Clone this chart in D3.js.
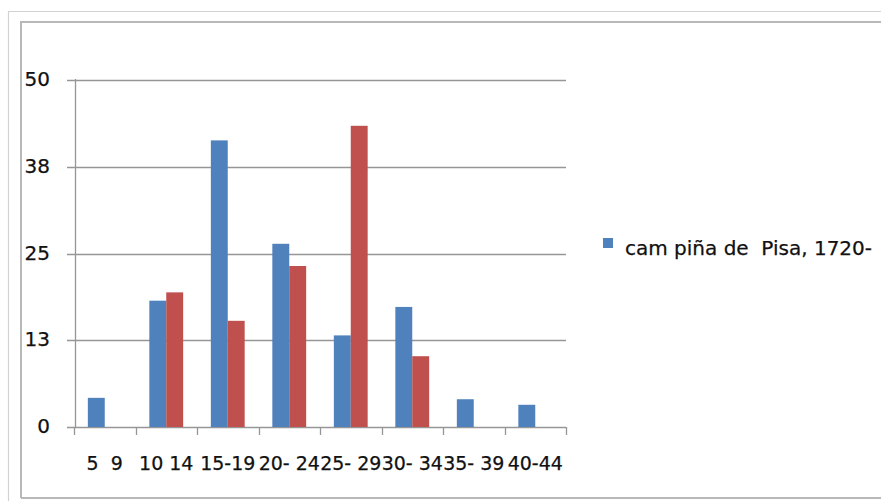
<!DOCTYPE html>
<html>
<head>
<meta charset="utf-8">
<script src="https://cdn.jsdelivr.net/npm/d3@7"></script>
<style>
  html, body { margin: 0; padding: 0; background: #fff; }
  svg { display: block; }
  text { font-family: "DejaVu Sans", Verdana, sans-serif; fill: #111; stroke: #111; stroke-width: 0.25; }
</style>
</head>
<body>
<svg id="chart" width="881" height="501"></svg>
<script>
// ---- data ----
const categories = ["5  9", "10 14", "15-19", "20- 24", "25- 29", "30- 34", "35- 39", "40-44"];
const seriesNames = ["cam piña de  Pisa, 1720-", "serie 2"];
const seriesBlue = [4.2, 18.2, 41.3, 26.4, 13.2, 17.3, 4.0, 3.2];
const seriesRed  = [null, 19.4, 15.3, 23.2, 43.4, 10.2, null, null];
const yTicks = [0, 12.5, 25, 37.5, 50];
const seriesColors = ["#4F81BD", "#C0504D"];

const svg = d3.select("#chart");

// frames
svg.append("path").attr("d", "M8.5,501 V11.5 H881")
  .attr("fill", "none").attr("stroke", "#d2d2d2").attr("stroke-width", 1.2);
svg.append("path").attr("d", "M21,498 V22 H881")
  .attr("fill", "none").attr("stroke", "#b8b8b8").attr("stroke-width", 2);
svg.append("line").attr("x1", 21).attr("x2", 881).attr("y1", 498).attr("y2", 498)
  .attr("stroke", "#b8b8b8").attr("stroke-width", 2);

const x = d3.scaleBand().domain(categories).range([74, 566]).padding(0);
const xSub = d3.scaleBand().domain([0, 1])
  .range([x.bandwidth() * 0.225, x.bandwidth() * 0.775]).padding(0);
const y = d3.scaleLinear().domain([0, 50]).range([427, 80]);

// gridlines
const grid = svg.append("g");
grid.selectAll("line").data(yTicks).join("line")
  .attr("x1", 67).attr("x2", 566)
  .attr("y1", d => Math.round(y(d)) + 0.5).attr("y2", d => Math.round(y(d)) + 0.5)
  .attr("stroke", "#969696").attr("stroke-width", 1.3);

// y axis line
svg.append("line").attr("x1", 75.5).attr("x2", 75.5).attr("y1", 79).attr("y2", 428)
  .attr("stroke", "#969696").attr("stroke-width", 1.3);

// y tick labels
svg.append("g").selectAll("text").data(yTicks).join("text")
  .attr("x", 50).attr("y", d => y(d) + 6)
  .attr("text-anchor", "end").attr("font-size", 20)
  .text(d => d3.format(".0f")(Math.round(d)));

// x axis ticks
const bounds = categories.map(c => x(c)).concat([x.range()[1]]);
svg.append("g").selectAll("line").data(bounds).join("line")
  .attr("x1", d => Math.round(d) + 0.5).attr("x2", d => Math.round(d) + 0.5)
  .attr("y1", 427).attr("y2", 435)
  .attr("stroke", "#969696").attr("stroke-width", 1.3);

// x labels
svg.append("g").selectAll("text").data(categories).join("text")
  .attr("x", d => x(d) + x.bandwidth() / 2).attr("y", 470)
  .attr("text-anchor", "middle").attr("font-size", 19)
  .style("white-space", "pre").attr("xml:space", "preserve")
  .text(d => d);

// bars
const data = [seriesBlue, seriesRed];
data.forEach((vals, si) => {
  svg.append("g").selectAll("rect")
    .data(vals.map((v, i) => ({ c: categories[i], v })).filter(d => d.v != null))
    .join("rect")
    .attr("x", d => x(d.c) + xSub(si))
    .attr("width", xSub.bandwidth())
    .attr("y", d => y(d.v))
    .attr("height", d => y(0) - y(d.v))
    .attr("fill", seriesColors[si]);
});

// legend (only first entry visible)
const lg = svg.append("g");
lg.append("rect").attr("x", 603).attr("y", 238).attr("width", 10).attr("height", 10)
  .attr("fill", seriesColors[0]);
lg.append("text").attr("x", 625).attr("y", 255).attr("font-size", 20)
  .attr("xml:space", "preserve").style("white-space", "pre")
  .text(seriesNames[0]);
</script>
</body>
</html>
